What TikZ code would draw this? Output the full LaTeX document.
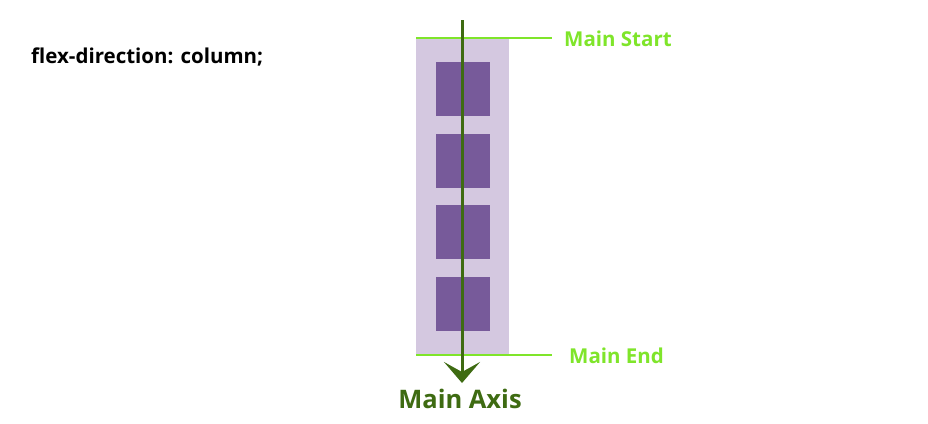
\documentclass[tikz,border=0pt]{standalone}
\usepackage{fontspec}
\setmainfont{Open Sans}
\usetikzlibrary{arrows.meta}
\definecolor{cont}{HTML}{D4C8E0}
\definecolor{item}{HTML}{775A9A}
\definecolor{axis}{HTML}{3E6B12}
\definecolor{lime}{HTML}{7FE52A}
\begin{document}
\begin{tikzpicture}[x=1pt,y=-1pt,
  itembox/.style={fill=item,draw=none,minimum width=54pt,minimum height=54pt,inner sep=0pt},
  limeline/.style={draw=lime,line width=2pt},
  limelabel/.style={text=lime,font=\fontsize{20.5}{24}\selectfont\bfseries,anchor=west,inner sep=0pt}]
\useasboundingbox (0,0) rectangle (928,423);
\fill[white] (0,0) rectangle (928,423);
\node[fill=cont,minimum width=93pt,minimum height=317pt,inner sep=0pt] (cont) at (462.5,196.5) {};
\node[itembox] (i1) at (463,89) {};
\node[itembox] (i2) at (463,161) {};
\node[itembox] (i3) at (463,232) {};
\node[itembox] (i4) at (463,304) {};
\coordinate (s0) at (416,38);
\coordinate (s1) at (552,38);
\coordinate (e0) at (416,355);
\coordinate (e1) at (552,355);
\draw[limeline] (s0) -- (s1);
\draw[limeline] (e0) -- (e1);
\node[limelabel] (ms) at (564,39) {Main Start};
\node[limelabel] (me) at (569,356) {Main End};
\coordinate (a0) at (462,20);
\coordinate (a1) at (462,383);
\draw[axis,line width=3pt,-{Stealth[length=21pt,width=36pt,inset=10pt]}] (a0) -- (a1);
\node[text=axis,font=\fontsize{25.5}{30}\selectfont\bfseries,inner sep=0pt] (ma) at (460,399) {Main Axis};
\node[font=\fontsize{20.5}{24}\selectfont\bfseries,anchor=west,inner sep=0pt] (fd) at (31,57) {flex-direction: column;};
\end{tikzpicture}
\end{document}
